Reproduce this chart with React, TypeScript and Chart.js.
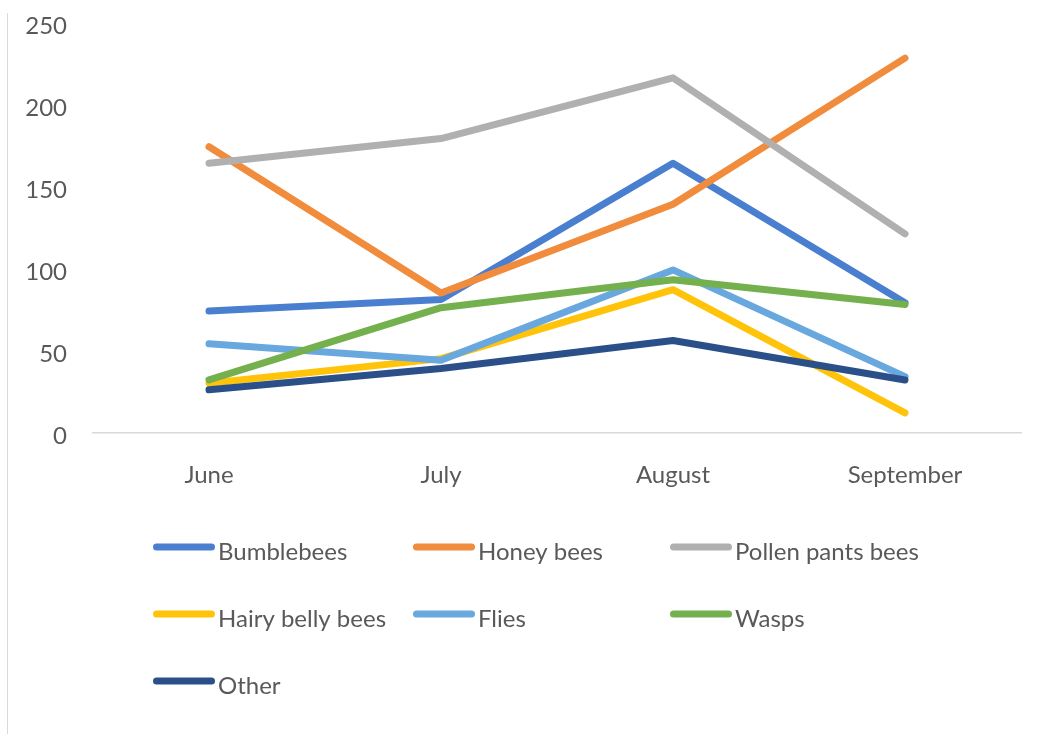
import React, { useEffect, useRef } from "react";
import { Chart, registerables } from "chart.js";

Chart.register(...registerables);

const months = ["June", "July", "August", "September"];
const seriesNames = [
  "Bumblebees",
  "Honey bees",
  "Pollen pants bees",
  "Hairy belly bees",
  "Flies",
  "Wasps",
  "Other",
];
const bumblebees = [74, 81, 164, 79];
const honeyBees = [174, 85, 139, 228];
const pollenPantsBees = [164, 179, 216, 121];
const hairyBellyBees = [30, 45, 87, 12];
const flies = [54, 44, 99, 34];
const wasps = [32, 76, 93, 78];
const other = [26, 39, 56, 32];
const yTicks = [0, 50, 100, 150, 200, 250];

const seriesValues = [bumblebees, honeyBees, pollenPantsBees, hairyBellyBees, flies, wasps, other];
const seriesColors = ["#4A7FCF", "#F08C3C", "#B0B0B0", "#FFC40A", "#68A8DE", "#74B04E", "#2B5089"];

const FONT = "Lato, 'Open Sans', sans-serif";
const FONT_SIZE = 24;
const TEXT_COLOR = "#595959";

const gridLegend = {
  id: "gridLegend",
  afterDraw(chart: any) {
    const ctx = chart.ctx as CanvasRenderingContext2D;
    const colX = [153, 413, 670];
    const rowY = [547, 614, 681];
    ctx.save();
    chart.data.datasets.forEach((ds: any, i: number) => {
      const x = colX[i % 3];
      const y = rowY[Math.floor(i / 3)];
      ctx.strokeStyle = ds.borderColor;
      ctx.lineWidth = 7;
      ctx.lineCap = "round";
      ctx.beginPath();
      ctx.moveTo(x + 3.5, y);
      ctx.lineTo(x + 58.5, y);
      ctx.stroke();
      ctx.fillStyle = TEXT_COLOR;
      ctx.font = `${FONT_SIZE}px ${FONT}`;
      ctx.textBaseline = "middle";
      ctx.textAlign = "left";
      ctx.fillText(ds.label, x + 65, y + 5);
    });
    ctx.restore();
  },
};

export default function App() {
  const ref = useRef<HTMLCanvasElement | null>(null);

  useEffect(() => {
    if (!ref.current) return;
    const chart = new Chart(ref.current, {
      type: "line",
      data: {
        labels: months,
        datasets: seriesNames.map((name, i) => ({
          label: name,
          data: seriesValues[i],
          borderColor: seriesColors[i],
          backgroundColor: seriesColors[i],
          borderWidth: 7,
          borderCapStyle: "round" as const,
          borderJoinStyle: "round" as const,
          pointRadius: 0,
          pointHoverRadius: 0,
          tension: 0,
          fill: false,
          order: seriesNames.length - i,
        })),
      },
      options: {
        responsive: false,
        animation: false,
        devicePixelRatio: 1,
        layout: { padding: { top: 22, right: 40, left: 0, bottom: 0 } },
        plugins: {
          legend: { display: false },
          tooltip: { enabled: false },
          title: { display: false },
        },
        scales: {
          x: {
            offset: true,
            grid: { display: false, drawTicks: false },
            border: { display: true, color: "#d9d9d9", width: 1.5 },
            ticks: {
              color: TEXT_COLOR,
              font: { family: FONT, size: FONT_SIZE },
              padding: 28,
              maxRotation: 0,
            },
            afterFit: (s: any) => {
              s.height = 301.5;
            },
          },
          y: {
            min: 0,
            max: 250,
            afterBuildTicks: (s: any) => {
              s.ticks = yTicks.map((v) => ({ value: v }));
            },
            grid: { display: false, drawTicks: false },
            border: { display: false },
            ticks: {
              color: TEXT_COLOR,
              font: { family: FONT, size: FONT_SIZE },
              padding: 26,
              labelOffset: 4,
            },
            afterFit: (s: any) => {
              s.width = 93;
              s.paddingTop = 0;
              s.paddingBottom = 0;
            },
          },
        },
      },
      plugins: [gridLegend],
    });
    return () => chart.destroy();
  }, []);

  return (
    <div style={{ position: "absolute", left: 0, top: 0, width: 1061, height: 734, background: "#fff" }}>
      <div style={{ position: "absolute", left: 7, top: 13, bottom: 0, width: 1, background: "#d9d9d9" }} />
      <canvas ref={ref} width={1061} height={734} style={{ position: "absolute", left: 0, top: 0 }} />
    </div>
  );
}
